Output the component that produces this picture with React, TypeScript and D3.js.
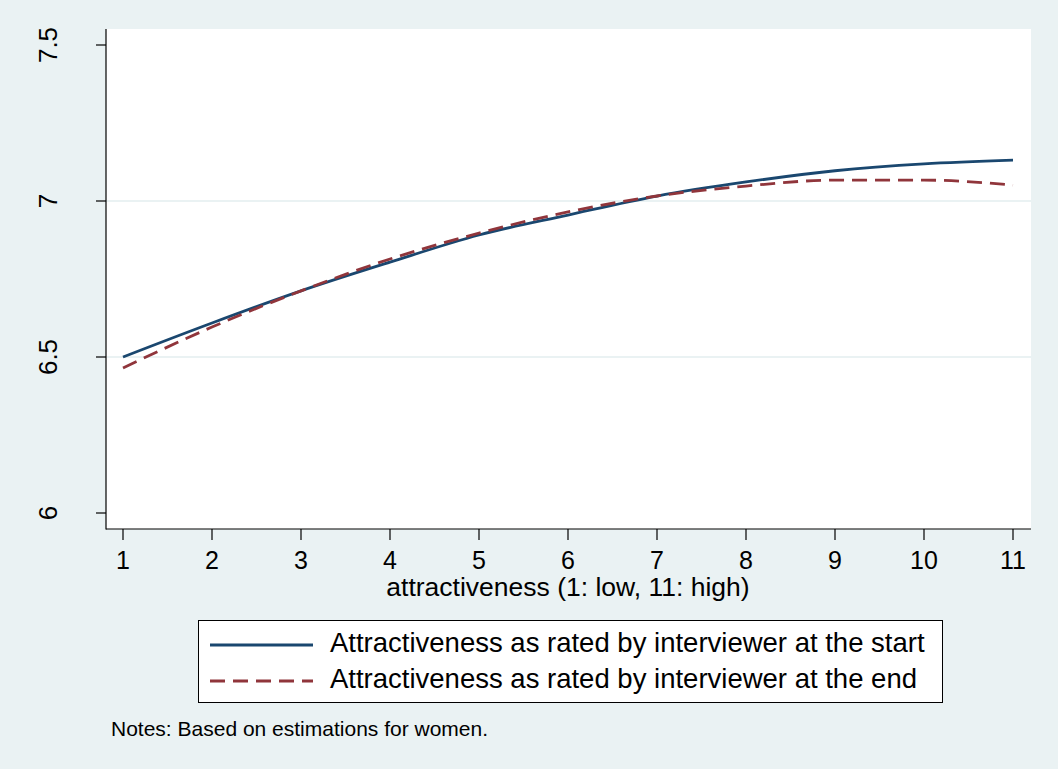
import React from "react";
import * as d3 from "d3";

const xValues = [1, 2, 3, 4, 5, 6, 7, 8, 9, 10, 11];
const startValues = [6.5, 6.609, 6.712, 6.804, 6.891, 6.955, 7.016, 7.061, 7.097, 7.119, 7.131];
const endValues = [6.465, 6.596, 6.712, 6.814, 6.897, 6.965, 7.016, 7.048, 7.067, 7.067, 7.051];
const xTicks = [1, 2, 3, 4, 5, 6, 7, 8, 9, 10, 11];
const yTicks = [6, 6.5, 7, 7.5];
const yGrid = [6.5, 7];
const seriesNames = [
  "Attractiveness as rated by interviewer at the start",
  "Attractiveness as rated by interviewer at the end",
];
const xTitle = "attractiveness (1: low, 11: high)";
const note = "Notes: Based on estimations for women.";

const W = 1058;
const H = 769;
const BG = "#EAF2F3";
const BLUE = "#1A476F";
const RED = "#90353B";
const FONT = "'Liberation Sans', Arial, sans-serif";

export default function App() {
  const plotL = 106, plotR = 1031, plotT = 29, plotB = 529;
  const x = d3.scaleLinear().domain([1, 11]).range([123, 1013]);
  const y = d3.scaleLinear().domain([6, 7.5]).range([513, 45]);
  const line = d3
    .line<number>()
    .x((_, i) => x(xValues[i]))
    .y((d) => y(d))
    .curve(d3.curveMonotoneX);

  return (
    <svg
      width={W}
      height={H}
      style={{ position: "absolute", left: 0, top: 0 }}
      fontFamily={FONT}
    >
      <rect x={0} y={0} width={W} height={H} fill={BG} />
      <rect x={plotL} y={plotT} width={plotR - plotL} height={plotB - plotT} fill="#fff" />
      {yGrid.map((g) => (
        <line key={g} x1={plotL} x2={plotR} y1={y(g)} y2={y(g)} stroke={BG} strokeWidth={2} />
      ))}
      <path d={line(startValues) || ""} fill="none" stroke={BLUE} strokeWidth={2.8} />
      <path
        d={line(endValues) || ""}
        fill="none"
        stroke={RED}
        strokeWidth={2.8}
        strokeDasharray="15 8"
      />
      <line x1={plotL} x2={plotL} y1={plotT} y2={plotB + 0.5} stroke="#000" strokeWidth={1.2} />
      <line x1={plotL} x2={plotR} y1={plotB} y2={plotB} stroke="#000" strokeWidth={1.2} />
      {yTicks.map((t) => (
        <g key={t}>
          <line x1={plotL - 10} x2={plotL} y1={y(t)} y2={y(t)} stroke="#000" strokeWidth={1.2} />
          <text
            transform={`translate(57,${y(t)}) rotate(-90)`}
            textAnchor="middle"
            fontSize={26}
            fill="#000"
          >
            {t}
          </text>
        </g>
      ))}
      {xTicks.map((t) => (
        <g key={t}>
          <line x1={x(t)} x2={x(t)} y1={plotB} y2={plotB + 11} stroke="#000" strokeWidth={1.2} />
          <text x={x(t)} y={569} textAnchor="middle" fontSize={25} fill="#000">
            {t}
          </text>
        </g>
      ))}
      <text x={568} y={596} textAnchor="middle" fontSize={26.5} fill="#000">
        {xTitle}
      </text>
      <rect x={198.5} y={620.5} width={744} height={82} fill="#fff" stroke="#000" strokeWidth={1} />
      {seriesNames.map((s, i) => (
        <g key={s}>
          <line
            x1={210}
            x2={313}
            y1={645 + i * 36}
            y2={645 + i * 36}
            stroke={i === 0 ? BLUE : RED}
            strokeWidth={2.8}
            strokeDasharray={i === 0 ? undefined : "15 8"}
          />
          <text x={330} y={652 + i * 36} fontSize={27.5} fill="#000">
            {s}
          </text>
        </g>
      ))}
      <text x={111} y={736} fontSize={21} fill="#000">
        {note}
      </text>
    </svg>
  );
}
